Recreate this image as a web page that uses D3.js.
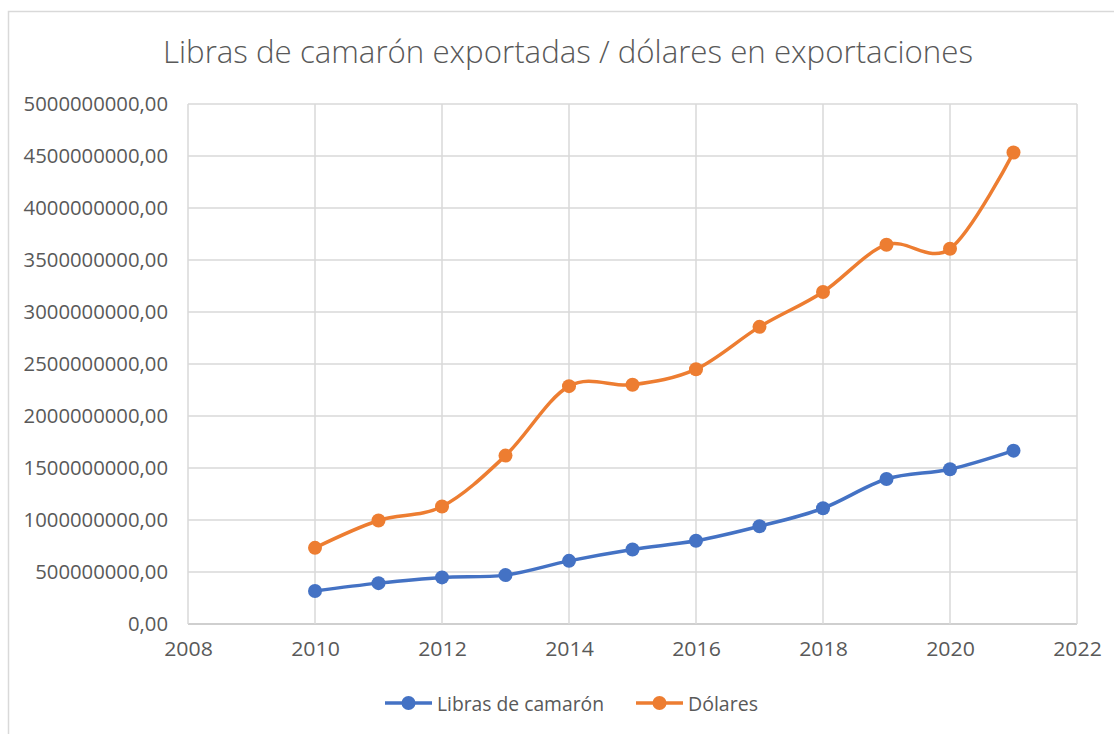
<!DOCTYPE html>
<html><head><meta charset="utf-8">
<script src="https://cdn.jsdelivr.net/npm/d3@7"></script>
<style>
body{margin:0;background:#fff;}
text{font-family:"Open Sans","Liberation Sans",sans-serif;fill:#595959;}
</style></head>
<body><svg id="c" width="1114" height="734"></svg>
<script>
const years = [2010,2011,2012,2013,2014,2015,2016,2017,2018,2019,2020,2021];
const libras = [318e6,393e6,448e6,470e6,607e6,717e6,800e6,940e6,1113e6,1394e6,1488e6,1667e6];
const dolares = [732e6,995e6,1130e6,1619e6,2287e6,2300e6,2450e6,2857e6,3193e6,3647e6,3608e6,4533e6];
const xTicks = [2008,2010,2012,2014,2016,2018,2020,2022];
const yTicks = [0,5e8,1e9,1.5e9,2e9,2.5e9,3e9,3.5e9,4e9,4.5e9,5e9];
const seriesNames = ["Libras de camarón","Dólares"];
const colors = ["#4472C4","#ED7D31"];
const title = "Libras de camarón exportadas / dólares en exportaciones";

const svg = d3.select("#c");
const W = 1114, H = 734;
svg.append("rect").attr("x",8.5).attr("y",11.5).attr("width",W).attr("height",H)
  .attr("fill","#fff").attr("stroke","#d9d9d9").attr("stroke-width",1.5);

const m = {left:188, right:1077, top:104, bottom:624};
const x = d3.scaleLinear().domain([2008,2022]).range([m.left,m.right]);
const y = d3.scaleLinear().domain([0,5e9]).range([m.bottom,m.top]);

// gridlines
const g = svg.append("g");
g.selectAll(".hg").data(yTicks).join("line")
  .attr("x1",m.left).attr("x2",m.right).attr("y1",d=>y(d)).attr("y2",d=>y(d))
  .attr("stroke",d=>d===0?"#bfbfbf":"#d9d9d9").attr("stroke-width",1.5);
g.selectAll(".vg").data(xTicks).join("line")
  .attr("x1",d=>x(d)).attr("x2",d=>x(d)).attr("y1",m.top).attr("y2",m.bottom)
  .attr("stroke","#d9d9d9").attr("stroke-width",1.5);

// axes via d3 axis
const fmt = d => d3.format(".2f")(d).replace(".",",");
const ya = svg.append("g").attr("transform",`translate(${m.left-20},0)`)
  .call(d3.axisLeft(y).tickValues(yTicks).tickFormat(fmt).tickSize(0).tickPadding(0));
ya.select(".domain").remove();
ya.selectAll("text").attr("font-size",20.3).attr("fill","#595959").style("font-family",'"Open Sans",sans-serif');
const xa = svg.append("g").attr("transform",`translate(0,${m.bottom+18})`)
  .call(d3.axisBottom(x).tickValues(xTicks).tickFormat(d3.format("d")).tickSize(0).tickPadding(0));
xa.select(".domain").remove();
xa.selectAll("text").attr("font-size",20.3).attr("fill","#595959").style("font-family",'"Open Sans",sans-serif');
ya.selectAll("text").each(function(){
  const w=this.getComputedTextLength();
  d3.select(this).attr("textLength",w*1.0).attr("lengthAdjust","spacingAndGlyphs");
});
xa.selectAll("text").each(function(){
  const w=this.getComputedTextLength();
  d3.select(this).attr("textLength",w*1.05).attr("lengthAdjust","spacingAndGlyphs");
});

// title
const tt = svg.append("text").attr("x",568).attr("y",63).attr("text-anchor","middle")
  .attr("font-size",31).attr("font-weight",300).text(title);
tt.attr("textLength",810).attr("lengthAdjust","spacingAndGlyphs");

// lines
const data = [libras,dolares];
const line = d3.line().x((d,i)=>x(years[i])).y(d=>y(d)).curve(d3.curveCatmullRom.alpha(0));
data.forEach((s,k)=>{
  svg.append("path").datum(s).attr("d",line).attr("fill","none")
    .attr("stroke",colors[k]).attr("stroke-width",3.5).attr("stroke-linecap","round");
  svg.append("g").selectAll("circle").data(s).join("circle")
    .attr("cx",(d,i)=>x(years[i])).attr("cy",d=>y(d)).attr("r",7).attr("fill",colors[k]);
});

// legend
const legX = [385,636];
const legW = [167,70];
seriesNames.forEach((n,k)=>{
  const lg = svg.append("g").attr("transform",`translate(${legX[k]},703)`);
  lg.append("line").attr("x1",0).attr("x2",47).attr("y1",0).attr("y2",0)
    .attr("stroke",colors[k]).attr("stroke-width",3.5);
  lg.append("circle").attr("cx",23.5).attr("cy",0).attr("r",7).attr("fill",colors[k]);
  const t = lg.append("text").attr("x",52).attr("y",7.5).attr("font-size",20.5).text(n);
  t.attr("textLength",legW[k]).attr("lengthAdjust","spacingAndGlyphs");
});
</script></body></html>
